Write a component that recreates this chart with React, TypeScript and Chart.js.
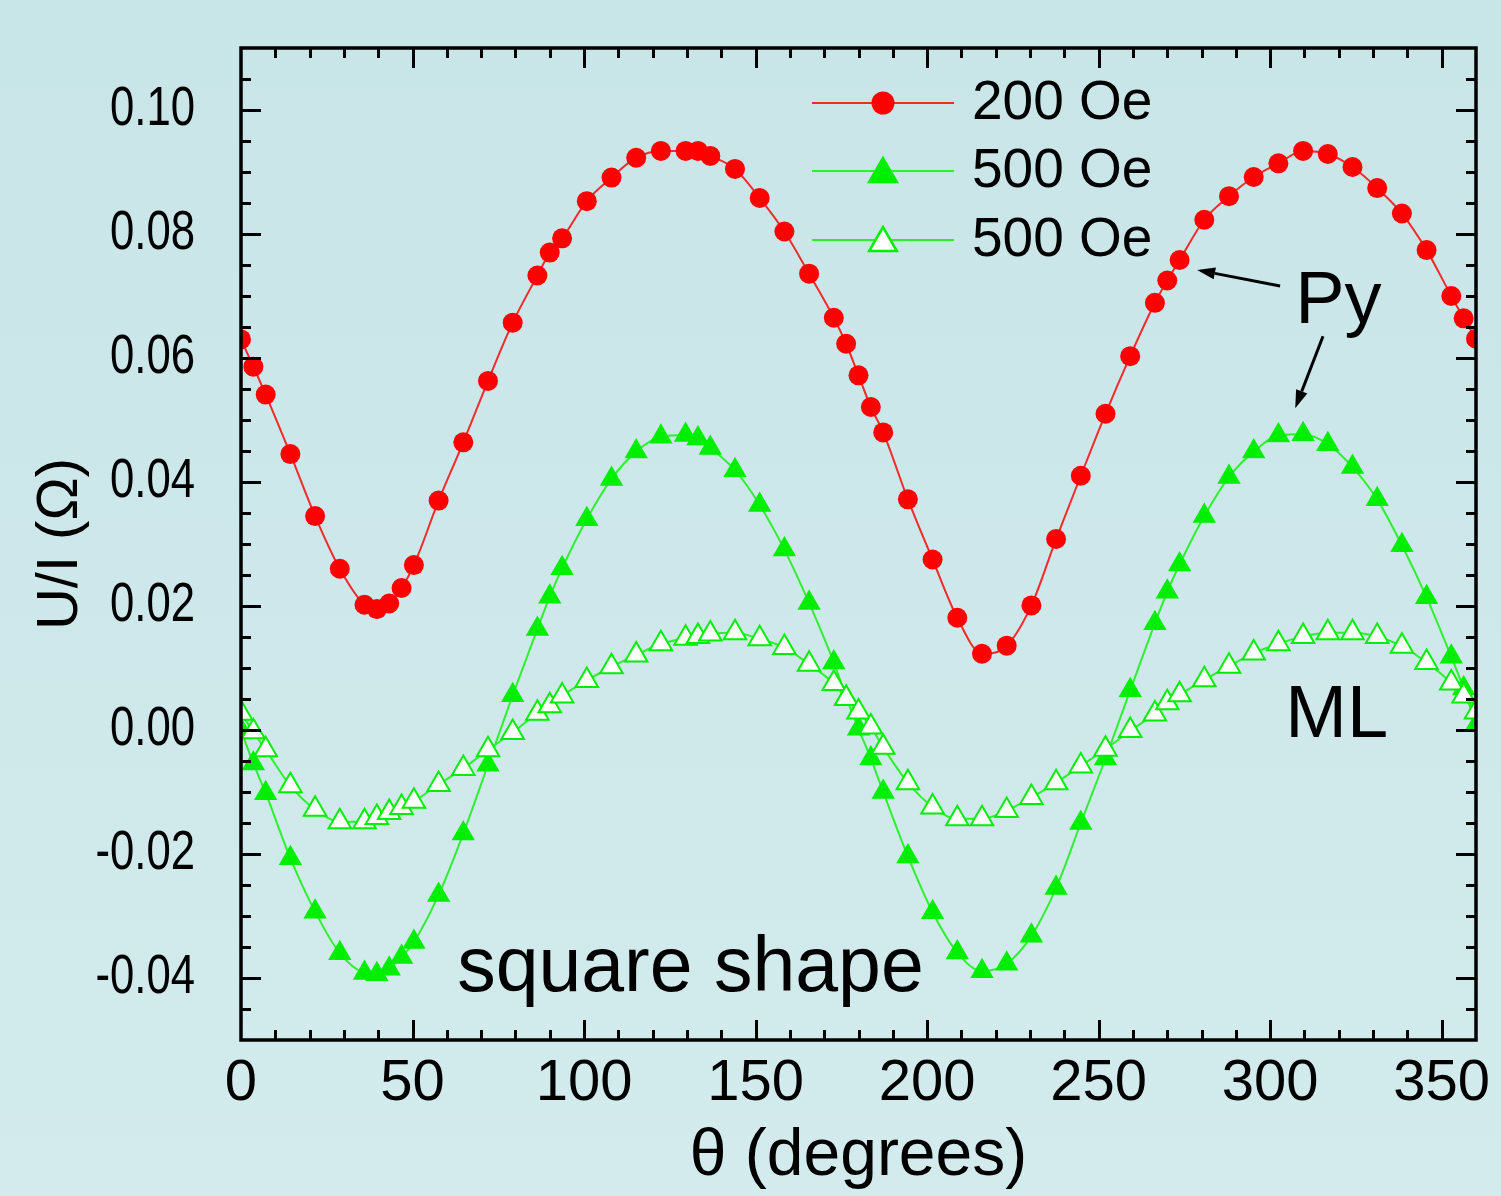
import React, { useEffect, useRef } from 'react';
import { Chart, registerables } from 'chart.js';

Chart.register(...registerables);

// ---------- data ----------
const angles = [
  0, 3.6, 7.2, 14.4, 21.6, 28.8, 36, 39.6, 43.2, 46.8, 50.4, 57.6, 64.8, 72, 79.2,
  86.4, 90, 93.6, 100.8, 108, 115.2, 122.4, 129.6, 133.2, 136.8, 144, 151.2, 158.4,
  165.6, 172.8, 176.4, 180, 183.6, 187.2, 194.4, 201.6, 208.8, 216, 223.2, 230.4,
  237.6, 244.8, 252, 259.2, 266.4, 270, 273.6, 280.8, 288, 295.2, 302.4, 309.6,
  316.8, 324, 331.2, 338.4, 345.6, 352.8, 356.4, 360,
];

const py200 = [
  0.0630, 0.0586, 0.0541, 0.0445, 0.0345, 0.0260, 0.0202, 0.0195, 0.0204, 0.0229,
  0.0266, 0.0370, 0.0464, 0.0563, 0.0657, 0.0733, 0.0770, 0.0793, 0.0853, 0.0891,
  0.0923, 0.0934, 0.0934, 0.0934, 0.0926, 0.0905, 0.0858, 0.0804, 0.0736, 0.0665,
  0.0623, 0.0572, 0.0521, 0.0480, 0.0372, 0.0275, 0.0181, 0.0123, 0.0136, 0.0201,
  0.0308, 0.0410, 0.0510, 0.0603, 0.0689, 0.0725, 0.0758, 0.0823, 0.0861, 0.0892,
  0.0914, 0.0934, 0.0929, 0.0908, 0.0874, 0.0833, 0.0774, 0.0700, 0.0664, 0.0631,
];

const py500 = [
  0.0000, -0.0054, -0.0102, -0.0207, -0.0293, -0.0360, -0.0392, -0.0394, -0.0385, -0.0366,
  -0.0342, -0.0266, -0.0167, -0.0056, 0.0056, 0.0163, 0.0215, 0.0261, 0.0340, 0.0405,
  0.0449, 0.0473, 0.0476, 0.0470, 0.0455, 0.0419, 0.0363, 0.0291, 0.0205, 0.0109,
  0.0053, 0.0002, -0.0046, -0.0100, -0.0204, -0.0294, -0.0359, -0.0389, -0.0377, -0.0332,
  -0.0255, -0.0150, -0.0046, 0.0064, 0.0172, 0.0223, 0.0267, 0.0345, 0.0408, 0.0449,
  0.0475, 0.0477, 0.0461, 0.0424, 0.0372, 0.0298, 0.0214, 0.0118, 0.0067, 0.0008,
];

const ml500 = [
  0.0027, -0.0003, -0.0032, -0.0090, -0.0128, -0.0148, -0.0148, -0.0141, -0.0133, -0.0125,
  -0.0115, -0.0088, -0.0062, -0.0032, -0.0004, 0.0027, 0.0039, 0.0055, 0.0080, 0.0102,
  0.0121, 0.0139, 0.0148, 0.0151, 0.0155, 0.0157, 0.0147, 0.0133, 0.0106, 0.0075,
  0.0051, 0.0029, 0.0005, -0.0028, -0.0085, -0.0124, -0.0143, -0.0143, -0.0130, -0.0109,
  -0.0085, -0.0058, -0.0031, -0.0001, 0.0026, 0.0044, 0.0057, 0.0081, 0.0103, 0.0124,
  0.0139, 0.0151, 0.0157, 0.0157, 0.0151, 0.0135, 0.0109, 0.0076, 0.0055, 0.0029,
];

const seriesLabels = ['200 Oe', '500 Oe', '500 Oe'];

const xTickLabels = [0, 50, 100, 150, 200, 250, 300, 350];
const yTickLabels = [-0.04, -0.02, 0.0, 0.02, 0.04, 0.06, 0.08, 0.1];

const xTitle = 'θ (degrees)';
const yTitle = 'U/I (Ω)';

// annotation texts (anchored in data coordinates)
const annotationTexts = [
  { text: 'Py', x: 307.3, y: 0.0656, size: 74 },
  { text: 'ML', x: 304.4, y: -0.0011, size: 74 },
  { text: 'square shape', x: 63.0, y: -0.0421, size: 77 },
];
const arrows = [
  { from: [302.9, 0.0716], to: [278.7, 0.0742] },
  { from: [315.4, 0.0635], to: [307.3, 0.0519] },
];

// ---------- styles ----------
const FONT = "'Liberation Sans', Arial, Helvetica, sans-serif";
const Y_LABEL_SQUEEZE = 0.78;
const RED = '#ff0000';
const RED_LINE = '#f22a2a';
const GREEN = '#00ee00';
const GREEN_LINE = '#2ef02e';

const W = 1501;
const H = 1196;

function trianglePath(ctx: CanvasRenderingContext2D, x: number, y: number, r: number) {
  const a = (2 * Math.PI) / 3;
  ctx.beginPath();
  ctx.moveTo(x, y - r);
  ctx.lineTo(x + Math.sin(a) * r, y - Math.cos(a) * r);
  ctx.lineTo(x + Math.sin(2 * a) * r, y - Math.cos(2 * a) * r);
  ctx.closePath();
}

const decorPlugin = {
  id: 'decor',
  afterLayout(chart: any) {
    // y tick labels in the reference are horizontally condensed: squeeze them about their right edge
    const ys = chart.scales.y;
    if (ys && !ys.__squeezed) {
      ys.__squeezed = true;
      const orig = ys.drawLabels;
      ys.drawLabels = function (area: any) {
        const ctx = this.ctx;
        const ax = this.right - this.options.ticks.padding;
        ctx.save();
        ctx.translate(ax, 0);
        ctx.scale(Y_LABEL_SQUEEZE, 1);
        ctx.translate(-ax, 0);
        orig.call(this, area);
        ctx.restore();
      };
    }
  },
  beforeDraw(chart: any) {
    const { ctx, width, height } = chart;
    const g = ctx.createLinearGradient(0, 0, 0, height);
    g.addColorStop(0, '#c8e5e8');
    g.addColorStop(1, '#d3ebed');
    ctx.save();
    ctx.fillStyle = g;
    ctx.fillRect(0, 0, width, height);
    ctx.restore();
  },
  afterDatasetsDraw(chart: any) {
    const { ctx, chartArea, scales } = chart;
    const { left, right, top, bottom } = chartArea;
    const xs = scales.x;
    const ys = scales.y;
    ctx.save();
    ctx.strokeStyle = '#000';
    ctx.lineWidth = 3;
    ctx.lineCap = 'butt';
    // x ticks (minor every 10, major every 50), inward, bottom and top
    for (let i = 1; i < 36; i++) {
      const px = Math.round(xs.getPixelForValue(i * 10)) + 0.5;
      const len = i % 5 === 0 ? 20 : 10;
      ctx.beginPath();
      ctx.moveTo(px, bottom);
      ctx.lineTo(px, bottom - len);
      ctx.moveTo(px, top);
      ctx.lineTo(px, top + len);
      ctx.stroke();
    }
    // y ticks (minor every 0.005, major every 0.02), inward, left and right
    for (let i = -9; i < 22; i++) {
      const py = Math.round(ys.getPixelForValue(i * 0.005)) + 0.5;
      const len = i % 4 === 0 ? 20 : 10;
      ctx.beginPath();
      ctx.moveTo(left, py);
      ctx.lineTo(left + len, py);
      ctx.moveTo(right, py);
      ctx.lineTo(right - len, py);
      ctx.stroke();
    }
    ctx.lineWidth = 3.5;
    ctx.strokeRect(left, top, right - left, bottom - top);
    ctx.restore();
  },
  afterDraw(chart: any) {
    const { ctx, scales } = chart;
    const xs = scales.x;
    const ys = scales.y;
    ctx.save();
    // legend
    const rows = [103, 171, 240];
    const lx1 = 812;
    const lx2 = 954;
    const mx = 883;
    const tx = 972;
    chart.data.datasets.forEach((ds: any, i: number) => {
      const yy = rows[i];
      ctx.strokeStyle = ds.borderColor;
      ctx.lineWidth = 2;
      ctx.beginPath();
      ctx.moveTo(lx1, yy);
      ctx.lineTo(lx2, yy);
      ctx.stroke();
      if (ds.pointStyle === 'circle') {
        ctx.beginPath();
        ctx.arc(mx, yy, 11.5, 0, Math.PI * 2);
        ctx.fillStyle = ds.pointBackgroundColor;
        ctx.fill();
      } else {
        trianglePath(ctx, mx, yy + 3, 16);
        ctx.fillStyle = ds.pointBackgroundColor;
        ctx.fill();
        ctx.strokeStyle = ds.pointBorderColor;
        ctx.lineWidth = 2.5;
        ctx.stroke();
      }
      ctx.fillStyle = '#000';
      ctx.font = `55px ${FONT}`;
      ctx.textAlign = 'left';
      ctx.textBaseline = 'middle';
      ctx.fillText(ds.label, tx, yy + 1);
    });

    // annotation texts
    ctx.fillStyle = '#000';
    ctx.textAlign = 'left';
    ctx.textBaseline = 'alphabetic';
    annotationTexts.forEach((a) => {
      ctx.font = `${a.size}px ${FONT}`;
      ctx.fillText(a.text, xs.getPixelForValue(a.x), ys.getPixelForValue(a.y));
    });

    // arrows
    ctx.strokeStyle = '#000';
    ctx.fillStyle = '#000';
    ctx.lineWidth = 3;
    arrows.forEach((ar) => {
      const x1 = xs.getPixelForValue(ar.from[0]);
      const y1 = ys.getPixelForValue(ar.from[1]);
      const x2 = xs.getPixelForValue(ar.to[0]);
      const y2 = ys.getPixelForValue(ar.to[1]);
      const ang = Math.atan2(y2 - y1, x2 - x1);
      const hl = 18;
      const hw = 6;
      const bx = x2 - Math.cos(ang) * hl;
      const by = y2 - Math.sin(ang) * hl;
      ctx.beginPath();
      ctx.moveTo(x1, y1);
      ctx.lineTo(bx, by);
      ctx.stroke();
      ctx.beginPath();
      ctx.moveTo(x2, y2);
      ctx.lineTo(bx + Math.sin(ang) * hw, by - Math.cos(ang) * hw);
      ctx.lineTo(bx - Math.sin(ang) * hw, by + Math.cos(ang) * hw);
      ctx.closePath();
      ctx.fill();
    });
    ctx.restore();
  },
};

export default function App() {
  const ref = useRef<HTMLCanvasElement | null>(null);

  useEffect(() => {
    document.body.style.margin = '0';
    document.body.style.overflow = 'hidden';
    const canvas = ref.current;
    if (!canvas) return;

    const toPoints = (vals: number[]) => angles.map((a, i) => ({ x: a, y: vals[i] }));

    const chart = new Chart(canvas, {
      type: 'line',
      data: {
        datasets: [
          {
            label: seriesLabels[0],
            data: toPoints(py200),
            borderColor: RED_LINE,
            borderWidth: 2,
            pointStyle: 'circle',
            pointRadius: 10,
            pointBackgroundColor: RED,
            pointBorderColor: RED,
            pointBorderWidth: 0,
            cubicInterpolationMode: 'monotone',
            clip: 0,
            order: 0,
          },
          {
            label: seriesLabels[1],
            data: toPoints(py500),
            borderColor: GREEN_LINE,
            borderWidth: 2,
            pointStyle: 'triangle',
            pointRadius: 13.5,
            pointBackgroundColor: GREEN,
            pointBorderColor: GREEN,
            pointBorderWidth: 0,
            cubicInterpolationMode: 'monotone',
            clip: 0,
            order: 2,
          },
          {
            label: seriesLabels[2],
            data: toPoints(ml500),
            borderColor: GREEN_LINE,
            borderWidth: 2,
            pointStyle: 'triangle',
            pointRadius: 13,
            pointBackgroundColor: '#ffffff',
            pointBorderColor: GREEN,
            pointBorderWidth: 2,
            cubicInterpolationMode: 'monotone',
            clip: 0,
            order: 1,
          },
        ] as any,
      },
      options: {
        responsive: false,
        animation: false,
        devicePixelRatio: 1,
        layout: { padding: { top: 48, right: 25, left: 0, bottom: 0 } },
        plugins: {
          legend: { display: false },
          tooltip: { enabled: false },
        },
        scales: {
          x: {
            type: 'linear',
            position: 'bottom',
            min: 0,
            max: 360,
            afterBuildTicks: (s: any) => {
              s.ticks = xTickLabels.map((v) => ({ value: v }));
            },
            afterFit: (s: any) => {
              s.height = H - 1040;
              s.paddingLeft = 0;
              s.paddingRight = 0;
            },
            grid: { display: false, drawTicks: false },
            border: { display: false },
            ticks: {
              color: '#000',
              font: { family: FONT, size: 58 },
              padding: 9,
              maxRotation: 0,
              autoSkip: false,
              callback: (v: any) => String(v),
            },
            title: {
              display: true,
              text: xTitle,
              color: '#000',
              font: { family: FONT, size: 66 },
              padding: 0,
            },
          },
          y: {
            type: 'linear',
            min: -0.05,
            max: 0.11,
            afterBuildTicks: (s: any) => {
              s.ticks = yTickLabels.map((v) => ({ value: v }));
            },
            afterFit: (s: any) => {
              s.width = 241;
              s.paddingTop = 0;
              s.paddingBottom = 0;
            },
            grid: { display: false, drawTicks: false },
            border: { display: false },
            ticks: {
              color: '#000',
              font: { family: FONT, size: 56 },
              padding: 46,
              autoSkip: false,
              callback: (v: any) => Number(v).toFixed(2),
            },
            title: {
              display: true,
              text: yTitle,
              color: '#000',
              font: { family: FONT, size: 58 },
              padding: { top: 26, bottom: 0 },
            },
          },
        },
      } as any,
      plugins: [decorPlugin],
    });

    return () => {
      chart.destroy();
    };
  }, []);

  return (
    <div style={{ width: W, height: H }}>
      <canvas ref={ref} width={W} height={H} style={{ display: 'block', width: W, height: H }} />
    </div>
  );
}
